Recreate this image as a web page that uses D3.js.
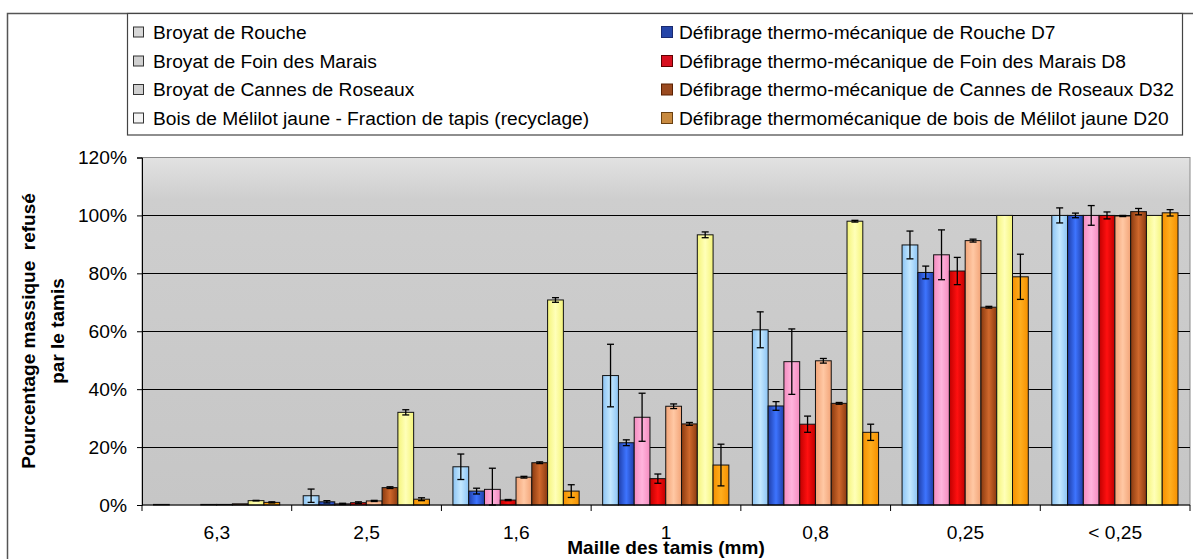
<!DOCTYPE html>
<html>
<head>
<meta charset="utf-8">
<script src="https://cdn.jsdelivr.net/npm/d3@7"></script>
<style>
  html, body { margin: 0; padding: 0; background: #ffffff; }
  svg { display: block; font-family: "Liberation Sans", Arial, sans-serif; }
</style>
</head>
<body>
<svg id="chart" width="1193" height="559"></svg>
<script>
// ---------- DATA ----------
const categories = ["6,3", "2,5", "1,6", "1", "0,8", "0,25", "< 0,25"];
const yTicks = [0, 20, 40, 60, 80, 100, 120];
const yTitleLines = ["Pourcentage massique  refusé", "par le tamis"];
const xTitle = "Maille des tamis (mm)";

const seriesNames = [
  "Broyat de Rouche",
  "Défibrage thermo-mécanique de Rouche D7",
  "Broyat de Foin des Marais",
  "Défibrage thermo-mécanique de Foin des Marais D8",
  "Broyat de Cannes de Roseaux",
  "Défibrage thermo-mécanique de Cannes de Roseaux D32",
  "Bois de Mélilot jaune - Fraction de tapis (recyclage)",
  "Défibrage thermomécanique de bois de Mélilot jaune D20"
];

const broyatRouche      = [0.2, 3.2, 13.2, 44.7, 60.5, 89.8, 100.0];
const broyatRoucheErr   = [0.0, 2.3, 4.4, 10.8, 6.2, 4.8, 2.6];
const defibRouche       = [0.0, 1.1, 4.8, 21.5, 34.2, 80.3, 100.0];
const defibRoucheErr    = [0.0, 0.4, 1.0, 1.0, 1.5, 2.2, 0.8];
const broyatFoin        = [0.0, 0.4, 5.4, 30.3, 49.5, 86.4, 100.0];
const broyatFoinErr     = [0.0, 0.2, 7.3, 8.3, 11.3, 8.6, 3.4];
const defibFoin         = [0.2, 0.8, 1.7, 9.1, 27.9, 80.8, 100.0];
const defibFoinErr      = [0.0, 0.3, 0.2, 1.6, 2.8, 4.7, 1.2];
const broyatCannes      = [0.2, 1.4, 9.6, 34.1, 49.8, 91.3, 99.8];
const broyatCannesErr   = [0.0, 0.2, 0.3, 0.8, 0.8, 0.5, 0.2];
const defibCannes       = [0.4, 6.0, 14.6, 28.0, 35.1, 68.3, 101.3];
const defibCannesErr    = [0.0, 0.3, 0.3, 0.5, 0.3, 0.3, 1.1];
const boisMelilot       = [1.5, 32.0, 70.8, 93.3, 98.0, 100.0, 100.0];
const boisMelilotErr    = [0.1, 0.9, 0.8, 1.0, 0.3, 0.0, 0.0];
const defibMelilot      = [0.9, 2.0, 4.8, 13.8, 25.1, 78.8, 100.9];
const defibMelilotErr   = [0.2, 0.5, 2.2, 7.2, 2.8, 7.8, 1.1];

const seriesValues = [broyatRouche, defibRouche, broyatFoin, defibFoin,
                      broyatCannes, defibCannes, boisMelilot, defibMelilot];
const seriesErrors = [broyatRoucheErr, defibRoucheErr, broyatFoinErr, defibFoinErr,
                      broyatCannesErr, defibCannesErr, boisMelilotErr, defibMelilotErr];

// ---------- STYLE ----------
const seriesEdge   = ["#8cc4f4", "#1f3ea8", "#f58cc0", "#c00000", "#f2a478", "#8a3a10", "#f4f47a", "#f59000"];
const seriesCenter = ["#c4e8ff", "#3d74ff", "#ffb4dc", "#ff1010", "#ffc8a4", "#d0682c", "#ffffb8", "#ffae1e"];
const legendFill   = ["#d8d8d8", "#2545a8", "#d0d0d0", "#d81020", "#d0d0d0", "#9a4a20", "#f4f4f4", "#c88a40"];
const legendStroke = ["#333", "#1a2a70", "#333", "#600000", "#333", "#5a2000", "#333", "#6a4010"];

const W = 1193, H = 559;
const plot = { left: 142, right: 1190, top: 157.5, bottom: 505 };

const svg = d3.select("#chart");
const defs = svg.append("defs");

const bg = defs.append("linearGradient").attr("id", "plotBg")
  .attr("x1", 0).attr("y1", 0).attr("x2", 0).attr("y2", 1);
bg.append("stop").attr("offset", "0%").attr("stop-color", "#e2e2e2");
bg.append("stop").attr("offset", "12%").attr("stop-color", "#cecece");
bg.append("stop").attr("offset", "100%").attr("stop-color", "#c6c6c6");

seriesNames.forEach((n, i) => {
  const g = defs.append("linearGradient").attr("id", "grad" + i)
    .attr("x1", 0).attr("y1", 0).attr("x2", 1).attr("y2", 0);
  g.append("stop").attr("offset", "0%").attr("stop-color", seriesEdge[i]);
  g.append("stop").attr("offset", "50%").attr("stop-color", seriesCenter[i]);
  g.append("stop").attr("offset", "100%").attr("stop-color", seriesEdge[i]);
});

// ---------- CHART AREA ----------
svg.append("rect").attr("x", 7.5).attr("y", 13.5).attr("width", W).attr("height", H)
  .attr("fill", "#ffffff").attr("stroke", "#555").attr("stroke-width", 1.5);

// ---------- SCALES ----------
const x = d3.scaleBand().domain(categories).range([plot.left, plot.right]).padding(0);
const xInner = d3.scaleBand().domain(d3.range(seriesNames.length))
  .range([11.5, x.bandwidth() - 12]).padding(0);
const y = d3.scaleLinear().domain([0, 120]).range([plot.bottom, plot.top]);

svg.append("rect").attr("x", plot.left).attr("y", plot.top)
  .attr("width", plot.right - plot.left).attr("height", plot.bottom - plot.top)
  .attr("fill", "url(#plotBg)").attr("stroke", "#8a8a8a").attr("stroke-width", 1);

svg.append("g").selectAll("line").data(yTicks.filter(t => t > 0 && t < 120)).join("line")
  .attr("x1", plot.left).attr("x2", plot.right)
  .attr("y1", d => Math.round(y(d)) + 0.5).attr("y2", d => Math.round(y(d)) + 0.5)
  .attr("stroke", "#000").attr("stroke-width", 1);

const groups = svg.append("g").selectAll("g").data(seriesNames).join("g")
  .attr("fill", (d, i) => `url(#grad${i})`);

groups.each(function (name, si) {
  const gs = d3.select(this);
  gs.selectAll("rect").data(seriesValues[si]).join("rect")
    .attr("x", (d, ci) => x(categories[ci]) + xInner(si))
    .attr("width", xInner.bandwidth())
    .attr("y", d => y(d))
    .attr("height", d => plot.bottom - y(d))
    .attr("stroke", "#111").attr("stroke-width", 1);
});

const capW = 7;
seriesNames.forEach((name, si) => {
  const ge = svg.append("g").attr("stroke", "#000").attr("stroke-width", 1.3);
  seriesValues[si].forEach((v, ci) => {
    const e = seriesErrors[si][ci];
    if (e <= 0) return;
    const cx = x(categories[ci]) + xInner(si) + xInner.bandwidth() / 2;
    const lo = Math.max(0, v - e), hi = v + e;
    ge.append("line").attr("x1", cx).attr("x2", cx).attr("y1", y(lo)).attr("y2", y(hi));
    ge.append("line").attr("x1", cx - capW / 2).attr("x2", cx + capW / 2).attr("y1", y(hi)).attr("y2", y(hi));
    ge.append("line").attr("x1", cx - capW / 2).attr("x2", cx + capW / 2).attr("y1", y(lo)).attr("y2", y(lo));
  });
});

const yAxis = d3.axisLeft(y).tickValues(yTicks).tickFormat(d => d + "%").tickSize(5).tickPadding(10);
const gy = svg.append("g").attr("transform", `translate(${plot.left},0)`).call(yAxis);
gy.select(".domain").attr("stroke", "#000");
gy.selectAll(".tick line").attr("stroke", "#000");
gy.selectAll(".tick text").attr("font-size", 19.2).attr("fill", "#000")
  .attr("font-family", "'Liberation Sans', Arial, sans-serif");

const gx = svg.append("g").attr("transform", `translate(0,${plot.bottom})`);
gx.append("line").attr("x1", plot.left).attr("x2", plot.right).attr("y1", 0).attr("y2", 0)
  .attr("stroke", "#000").attr("stroke-width", 1.2);
const bounds = categories.map(c => x(c)).concat([plot.right]);
gx.selectAll("line.tk").data(bounds).join("line").attr("class", "tk")
  .attr("x1", d => d).attr("x2", d => d).attr("y1", 0).attr("y2", 6)
  .attr("stroke", "#000");
gx.selectAll("text").data(categories).join("text")
  .attr("x", d => x(d) + x.bandwidth() / 2).attr("y", 34)
  .attr("text-anchor", "middle").attr("font-size", 19.2).attr("fill", "#000")
  .text(d => d);

svg.append("text").attr("x", 666).attr("y", 554).attr("text-anchor", "middle")
  .attr("font-size", 19).attr("font-weight", "bold").text(xTitle);
yTitleLines.forEach((t, i) => {
  svg.append("text").attr("transform", `translate(${28 + i * 29},331) rotate(-90)`)
    .attr("text-anchor", "middle").attr("dy", "0.35em")
    .attr("font-size", 19).attr("font-weight", "bold")
    .style("white-space", "pre").text(t);
});

// ---------- LEGEND ----------
const leg = svg.append("g");
leg.append("rect").attr("x", 127.5).attr("y", 13.5).attr("width", 1055).attr("height", 121.5)
  .attr("fill", "#fff").attr("stroke", "#444").attr("stroke-width", 1.2);
const legendOrder = [0, 2, 4, 6, 1, 3, 5, 7];
const rowY = [32, 61, 89.5, 118];
legendOrder.forEach((si, k) => {
  const col = Math.floor(k / 4), row = k % 4;
  const mx = col === 0 ? 133 : 661;
  const tx = col === 0 ? 153 : 679;
  const sz = col === 0 ? 11 : 12;
  leg.append("rect").attr("x", mx + 0.5).attr("y", rowY[row] - sz / 2 + 0.5)
    .attr("width", sz - 1).attr("height", sz - 1)
    .attr("fill", legendFill[si]).attr("stroke", legendStroke[si]).attr("stroke-width", 1);
  leg.append("text").attr("x", tx).attr("y", rowY[row]).attr("dy", "0.35em")
    .attr("font-size", 19.2).attr("fill", "#000").text(seriesNames[si]);
});
</script>
</body>
</html>
